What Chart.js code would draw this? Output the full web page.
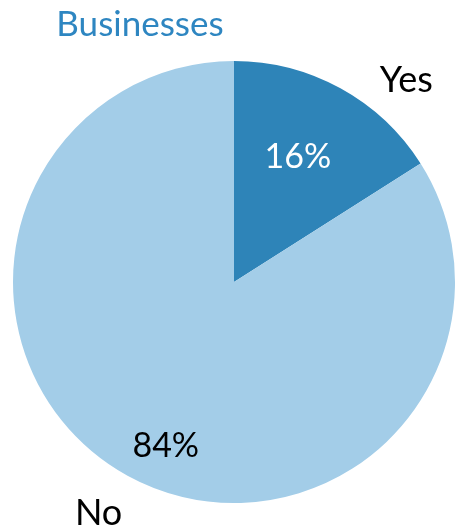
<!DOCTYPE html>
<html>
<head>
<meta charset="utf-8">
<script src="https://cdn.jsdelivr.net/npm/chart.js@4/dist/chart.umd.min.js"></script>
<style>
  html, body { margin: 0; padding: 0; background: #fff; }
  #wrap { width: 463px; height: 532px; }
</style>
</head>
<body>
<div id="wrap"><canvas id="grafic"></canvas></div>
<script>
// dades del grafic
const titol = "Businesses";
const etiquetes = ["Yes", "No"];
const valors = [16, 84];
const colors = ["#2e84b8", "#a3cde8"];
const colorsPct = ["#ffffff", "#000000"];

// posicio de les etiquetes: factor del radi i desplaçament d'angle (graus)
const posEtiqueta = [{ f: 1.16, d: 13.4 }, { f: 1.26, d: 0.3 }];
const posPct = [{ f: 0.59, d: 0.5 }, { f: 0.85, d: -7.5 }];

const FONT = "Lato, 'Open Sans', sans-serif";

const etiquetesPlugin = {
  id: "etiquetes",
  afterDraw(chart) {
    const ctx = chart.ctx;
    const meta = chart.getDatasetMeta(0);
    const total = valors.reduce((a, b) => a + b, 0);
    ctx.save();
    // titol
    ctx.font = "35px " + FONT;
    ctx.fillStyle = "#2e86c1";
    ctx.textAlign = "center";
    ctx.textBaseline = "alphabetic";
    ctx.fillText(titol, 140, 36);

    meta.data.forEach((arc, i) => {
      const mig = (arc.startAngle + arc.endAngle) / 2;
      const r = arc.outerRadius;
      // etiqueta de fora
      let a = mig + posEtiqueta[i].d * Math.PI / 180;
      let x = arc.x + Math.cos(a) * r * posEtiqueta[i].f;
      let y = arc.y + Math.sin(a) * r * posEtiqueta[i].f;
      ctx.font = "36px " + FONT;
      ctx.fillStyle = "#000";
      ctx.fillText(etiquetes[i], x, y);
      // percentatge
      a = mig + posPct[i].d * Math.PI / 180;
      x = arc.x + Math.cos(a) * r * posPct[i].f;
      y = arc.y + Math.sin(a) * r * posPct[i].f;
      ctx.font = "34px " + FONT;
      ctx.fillStyle = colorsPct[i];
      ctx.fillText(Math.round(valors[i] / total * 100) + "%", x, y);
    });
    ctx.restore();
  }
};

const config = {
  type: "pie",
  data: {
    labels: etiquetes,
    datasets: [{
      data: valors,
      backgroundColor: colors,
      borderWidth: 0
    }]
  },
  options: {
    responsive: true,
    maintainAspectRatio: false,
    animation: false,
    layout: { padding: { top: 61, bottom: 29, left: 12, right: 7 } },
    plugins: {
      legend: { display: false },
      tooltip: { enabled: false },
      title: { display: false }
    }
  },
  plugins: [etiquetesPlugin]
};

new Chart(document.getElementById("grafic"), config);
</script>
</body>
</html>
